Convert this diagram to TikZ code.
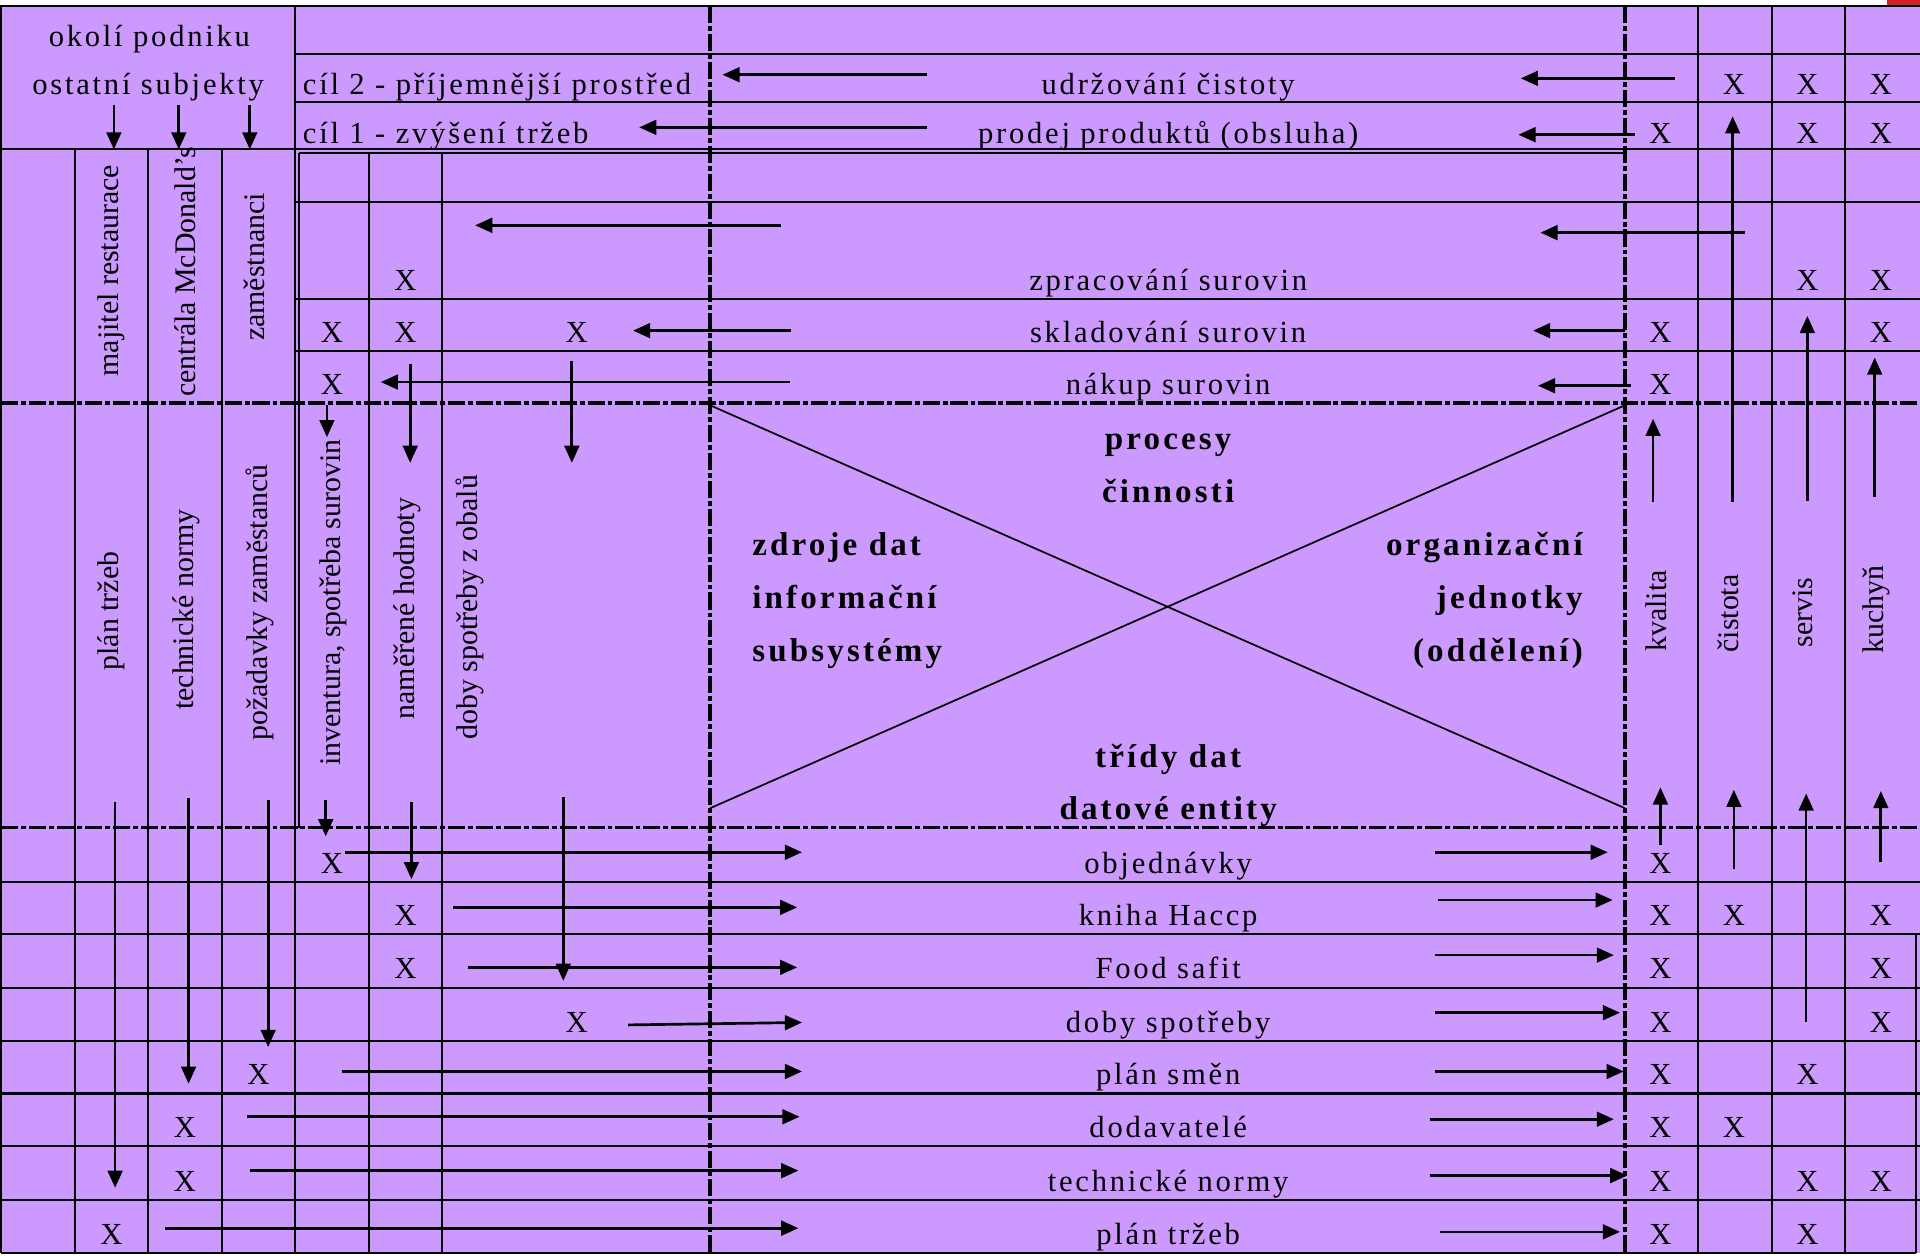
\documentclass[tikz,border=0pt]{standalone}
\usepackage{fontspec}
\setmainfont{Liberation Serif}
\newfontfamily\hfont[LetterSpace=9]{Liberation Serif}
\newfontfamily\bfnt[LetterSpace=9.5]{Liberation Serif}
\usetikzlibrary{arrows.meta}
\definecolor{lav}{RGB}{204,153,255}
\definecolor{redmark}{RGB}{208,32,40}
\begin{document}
\begin{tikzpicture}[x=0.5pt,y=-0.5pt,
  grid/.style={line width=0.85pt},
  dsh/.style={line width=1.4pt, dash pattern=on 7pt off 1.2pt on 2pt off 1.2pt},
  diag/.style={line width=0.7pt},
  arr/.style={line width=1.1pt, -{Triangle[length=7pt,width=6pt]}},
  ht/.style={font=\hfont\fontsize{12.5}{14}\selectfont, inner sep=0pt, anchor=base},
  xm/.style={font=\fontsize{12.5}{14}\selectfont, inner sep=0pt, anchor=base},
  bt/.style={font=\bfnt\bfseries\fontsize{13.5}{15}\selectfont, inner sep=0pt, anchor=base},
  vt/.style={font=\fontsize{12.2}{14}\selectfont, rotate=90, inner sep=0pt}]
\useasboundingbox (0,0) rectangle (1568,1025);
% background
\fill[lav] (0,5) rectangle (1568,1023);
\fill[redmark] (1541,0) rectangle (1568,4);
% solid grid lines
\draw[grid] (0,5) -- (1568,5);
\draw[grid] (1,5) -- (1,1023);
\draw[grid] (241,5) -- (241,1023);
\draw[grid] (244,125) -- (244,676);
\draw[grid] (241,44) -- (1568,44);
\draw[grid] (241,83) -- (1568,83);
\draw[grid] (1,122) -- (1568,122);
\draw[grid] (244,125) -- (1327,125);
\draw[grid] (241,165) -- (1568,165);
\draw[grid] (241,244) -- (1568,244);
\draw[grid] (241,287) -- (1568,287);
\foreach \x in {61,121,181} \draw[grid] (\x,122) -- (\x,1023);
\foreach \x in {301,361} \draw[grid] (\x,125) -- (\x,1023);
\foreach \x in {1387,1447,1507} \draw[grid] (\x,5) -- (\x,1023);
\foreach \y in {720,763,806.5,850,893,936,980} \draw[grid] (1,\y) -- (1568,\y);
\draw[grid] (1,1023) -- (1565,1023);
\draw[grid] (1565,763) -- (1565,1023);
% dashed lines
\draw[dsh] (580,5) -- (580,1023);
\draw[dsh] (1327,5) -- (1327,1023);
\draw[dsh] (1,329) -- (1568,329);
\draw[dsh] (1,676) -- (1568,676);
% diagonals
\draw[diag] (580,331) -- (1327,660);
\draw[diag] (580,660) -- (1327,331);
% header texts
\node[ht] (okoli) at (122,38) {okolí podniku};
\node[ht] (ostatni) at (121,77) {ostatní subjekty};
\node[ht,anchor=base west] (cil2) at (247,77) {cíl 2 - příjemnější prostřed};
\node[ht,anchor=base west] (cil1) at (247,117) {cíl 1 - zvýšení tržeb};
% row labels
\node[ht] (r1) at (954,77) {udržování čistoty};
\node[ht] (r2) at (954,117) {prodej produktů (obsluha)};
\node[ht] (r3) at (954,237) {zpracování surovin};
\node[ht] (r4) at (954,280) {skladování surovin};
\node[ht] (r5) at (954,322) {nákup surovin};
\node[ht] (d1) at (954,713) {objednávky};
\node[ht] (d2) at (954,756) {kniha Haccp};
\node[ht] (d3) at (954,799) {Food safit};
\node[ht] (d4) at (954,843) {doby spotřeby};
\node[ht] (d5) at (954,886) {plán směn};
\node[ht] (d6) at (954,929) {dodavatelé};
\node[ht] (d7) at (954,973) {technické normy};
\node[ht] (d8) at (954,1016) {plán tržeb};
% bold centre texts
\node[bt] (b1) at (954,367) {procesy};
\node[bt] (b2) at (954,410) {činnosti};
\node[bt,anchor=base west] (b3) at (614,454) {zdroje dat};
\node[bt,anchor=base west] (b4) at (614,497) {informační};
\node[bt,anchor=base west] (b5) at (614,540) {subsystémy};
\node[bt,anchor=base east] (b6) at (1293,454) {organizační};
\node[bt,anchor=base east] (b7) at (1293,497) {jednotky};
\node[bt,anchor=base east] (b8) at (1293,540) {(oddělení)};
\node[bt] (b9) at (954,627) {třídy dat};
\node[bt] (b10) at (954,669) {datové entity};
% vertical texts
\node[vt] (v1) at (91,221) {majitel restaurace};
\node[vt] (v2) at (151,222) {centrála McDonald's};
\node[vt] (v3) at (208,218) {zaměstnanci};
\node[vt] (v4) at (91,499) {plán tržeb};
\node[vt] (v5) at (152,498) {technické normy};
\node[vt] (v6) at (212,492) {požadavky zaměstanců};
\node[vt] (v7) at (272,492) {inventura, spotřeba surovin};
\node[vt] (v8) at (333,497) {naměřené hodnoty};
\node[vt] (v9) at (384,496) {doby spotřeby z obalů};
\node[vt] (v10) at (1353,499) {kvalita};
\node[vt] (v11) at (1411,501) {čistota};
\node[vt] (v12) at (1472,500) {servis};
\node[vt] (v13) at (1532,498) {kuchyň};
% X marks
\foreach \x/\y [count=\i] in {1416/77,1476/77,1536/77,
  1356/117,1476/117,1536/117,
  331/237,1476/237,1536/237,
  271/280,331/280,471/280,1356/280,1536/280,
  271/322,1356/322,
  271/713,1356/713,
  331/756,1356/756,1416/756,1536/756,
  331/799,1356/799,1536/799,
  471/843,1356/843,1536/843,
  211/886,1356/886,1476/886,
  151/929,1356/929,1416/929,
  151/973,1356/973,1476/973,1536/973,
  91/1016,1356/1016,1476/1016}
  \node[xm] (x\i) at (\x,\y) {X};
% arrows: top
\draw[arr] (757,61) -- (590,61);
\draw[arr] (757,104) -- (522,104);
\draw[arr] (1368,64) -- (1242,64);
\draw[arr] (1335,110) -- (1240,110);
\draw[arr] (93,86) -- (93,122);
\draw[arr] (146,86) -- (146,122);
\draw[arr] (204,86) -- (204,122);
% arrows: processes
\draw[arr] (638,184) -- (388,184);
\draw[arr] (1425,190) -- (1258,190);
\draw[arr] (646,270) -- (517,270);
\draw[arr] (1327,270) -- (1252,270);
\draw[arr] (645,312) -- (311,312);
\draw[arr] (1332,315) -- (1256,315);
\draw[arr] (267,331) -- (267,357);
\draw[arr] (335,297) -- (335,378);
\draw[arr] (467,295) -- (467,378);
% arrows: right up
\draw[arr] (1350,410) -- (1350,342);
\draw[arr] (1415,410) -- (1415,95);
\draw[arr] (1476,409) -- (1476,258);
\draw[arr] (1531,406) -- (1531,292);
% arrows: lower down
\draw[arr] (94,655) -- (94,970);
\draw[arr] (154,652) -- (154,885);
\draw[arr] (219,653) -- (219,855);
\draw[arr] (266,653) -- (266,683);
\draw[arr] (336,655) -- (336,718);
\draw[arr] (460,651) -- (460,801);
% arrows: lower up
\draw[arr] (1356,690) -- (1356,643);
\draw[arr] (1416,710) -- (1416,645);
\draw[arr] (1475,835) -- (1475,648);
\draw[arr] (1536,704) -- (1536,646);
% arrows: right-going
\draw[arr] (282,696) -- (655,696);
\draw[arr] (1172,696) -- (1313,696);
\draw[arr] (370,741) -- (651,741);
\draw[arr] (1174,735) -- (1317,735);
\draw[arr] (382,790) -- (651,790);
\draw[arr] (1172,780) -- (1318,780);
\draw[arr] (513,837) -- (655,835);
\draw[arr] (1172,827) -- (1323,827);
\draw[arr] (279,875) -- (655,875);
\draw[arr] (1172,875) -- (1326,875);
\draw[arr] (202,912) -- (653,912);
\draw[arr] (1168,914) -- (1318,914);
\draw[arr] (204,956) -- (652,956);
\draw[arr] (1168,960) -- (1329,960);
\draw[arr] (135,1003) -- (652,1003);
\draw[arr] (1176,1006) -- (1323,1006);
\end{tikzpicture}
\end{document}
